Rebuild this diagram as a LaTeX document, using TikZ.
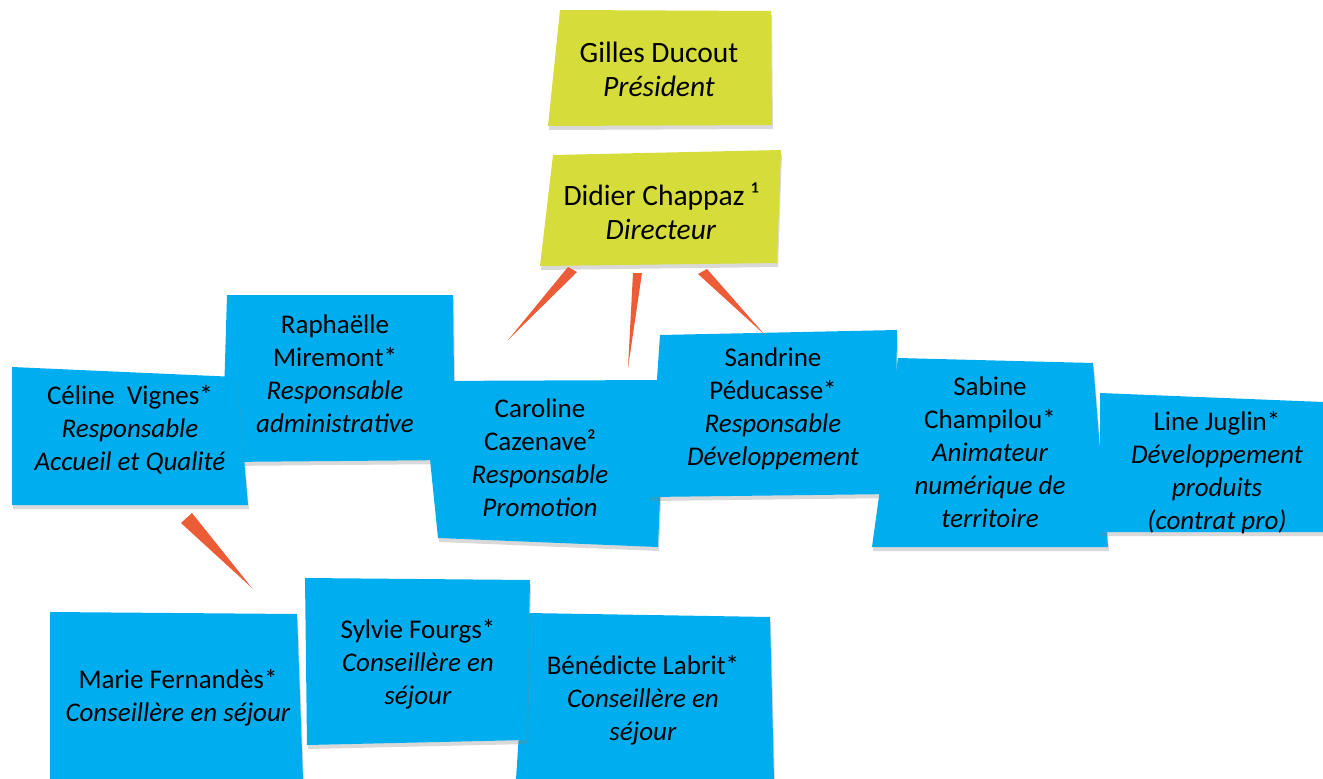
\documentclass[tikz,border=0pt]{standalone}
\usepackage{fontspec}
\setmainfont{Carlito}
\usetikzlibrary{shadows}
\definecolor{noteblue}{RGB}{0,174,239}
\definecolor{noteyellow}{RGB}{214,221,58}
\definecolor{wedgeorange}{RGB}{236,92,55}
\begin{document}
\begin{tikzpicture}[x=1pt,y=-1pt,
      yl/.style={fill=noteyellow,drop shadow={shadow xshift=1pt,shadow yshift=-4pt,opacity=0.3}},
      bl/.style={fill=noteblue,drop shadow={shadow xshift=1pt,shadow yshift=-4pt,opacity=0.3}},
      wd/.style={fill=wedgeorange},
      tx/.style={align=center,font=\fontsize{27}{33}\selectfont},
      tt/.style={align=center,font=\fontsize{29.5}{34}\selectfont}]
      \useasboundingbox (0,0) rectangle (1323,779);
      % top
      \fill[yl] (560,10) -- (771,11) -- (772,125) -- (548,126) -- cycle;
      \node[tt] (gilles) at (659,69) {Gilles Ducout\\\textit{Président}};
      \fill[yl] (553,155) -- (781,150) -- (777,263) -- (540,266) -- cycle;
      \node[tt] (didier) at (661,211) {Didier Chappaz ¹\\\textit{Directeur}};
      % second row
      \fill[bl] (227,295) -- (453,295) -- (455,460) -- (222,462) -- cycle;
      \node[tx] (raph) at (335,374) {Raphaëlle\\Miremont*\\\textit{Responsable}\\\textit{administrative}};
      \fill[bl] (12,367) -- (237,377) -- (248,505) -- (12,505) -- cycle;
      \node[tx] (celine) at (130,430) {Céline\ \ Vignes*\\\textit{Responsable}\\\textit{Accueil et Qualité}};
      \fill[bl] (422,381) -- (665,380) -- (658,547) -- (438,538) -- cycle;
      \node[tx] (caro) at (540,458) {Caroline\\Cazenave²\\\textit{Responsable}\\\textit{Promotion}};
      \fill[bl] (660,335) -- (897,330) -- (895,494) -- (649,497) -- cycle;
      \node[tx] (sandrine) at (773,409) {Sandrine\\Péducasse*\\\textit{Responsable}\\\textit{Développement}};
      \fill[bl] (898,358) -- (1093,363) -- (1108,547) -- (872,547) -- cycle;
      \node[tx] (sabine) at (990,452) {Sabine\\Champilou*\\\textit{Animateur}\\\textit{numérique de}\\\textit{territoire}};
      \fill[bl] (1100,393) -- (1323,402) -- (1323,532) -- (1100,532) -- cycle;
      \node[tx] (line) at (1217,473) {Line Juglin*\\\textit{Développement}\\\textit{produits}\\\textit{(contrat pro)}};
      % third row
      \fill[bl] (50,612) -- (297,614) -- (303,779) -- (50,779) -- cycle;
      \node[tx] (marie) at (178,698) {Marie Fernandès*\\\textit{Conseillère en séjour}};
      \fill[bl] (527,613) -- (770,617) -- (774,779) -- (516,779) -- cycle;
      \node[tx] (bene) at (643,700) {Bénédicte Labrit*\\\textit{Conseillère en}\\\textit{séjour}};
      \fill[bl] (305,578) -- (530,580) -- (527,740) -- (307,745) -- cycle;
      \node[tx] (sylvie) at (418,664) {Sylvie Fourgs*\\\textit{Conseillère en}\\\textit{séjour}};
      % wedges
      \coordinate (d1a) at (568,267); \coordinate (d1b) at (577,272); \coordinate (to-raph) at (508,340);
      \coordinate (d2a) at (633,273); \coordinate (d2b) at (642,273); \coordinate (to-caro) at (628,368);
      \coordinate (d3a) at (698,274); \coordinate (d3b) at (707,269); \coordinate (to-sand) at (765,335);
      \coordinate (c1a) at (181,523); \coordinate (c1b) at (192,513); \coordinate (to-marie) at (252,588);
      \fill[wd] (d1a) -- (d1b) -- (to-raph) -- cycle;
      \fill[wd] (d2a) -- (d2b) -- (to-caro) -- cycle;
      \fill[wd] (d3a) -- (d3b) -- (to-sand) -- cycle;
      \fill[wd] (c1a) -- (c1b) -- (to-marie) -- cycle;
  \end{tikzpicture}
\end{document}
